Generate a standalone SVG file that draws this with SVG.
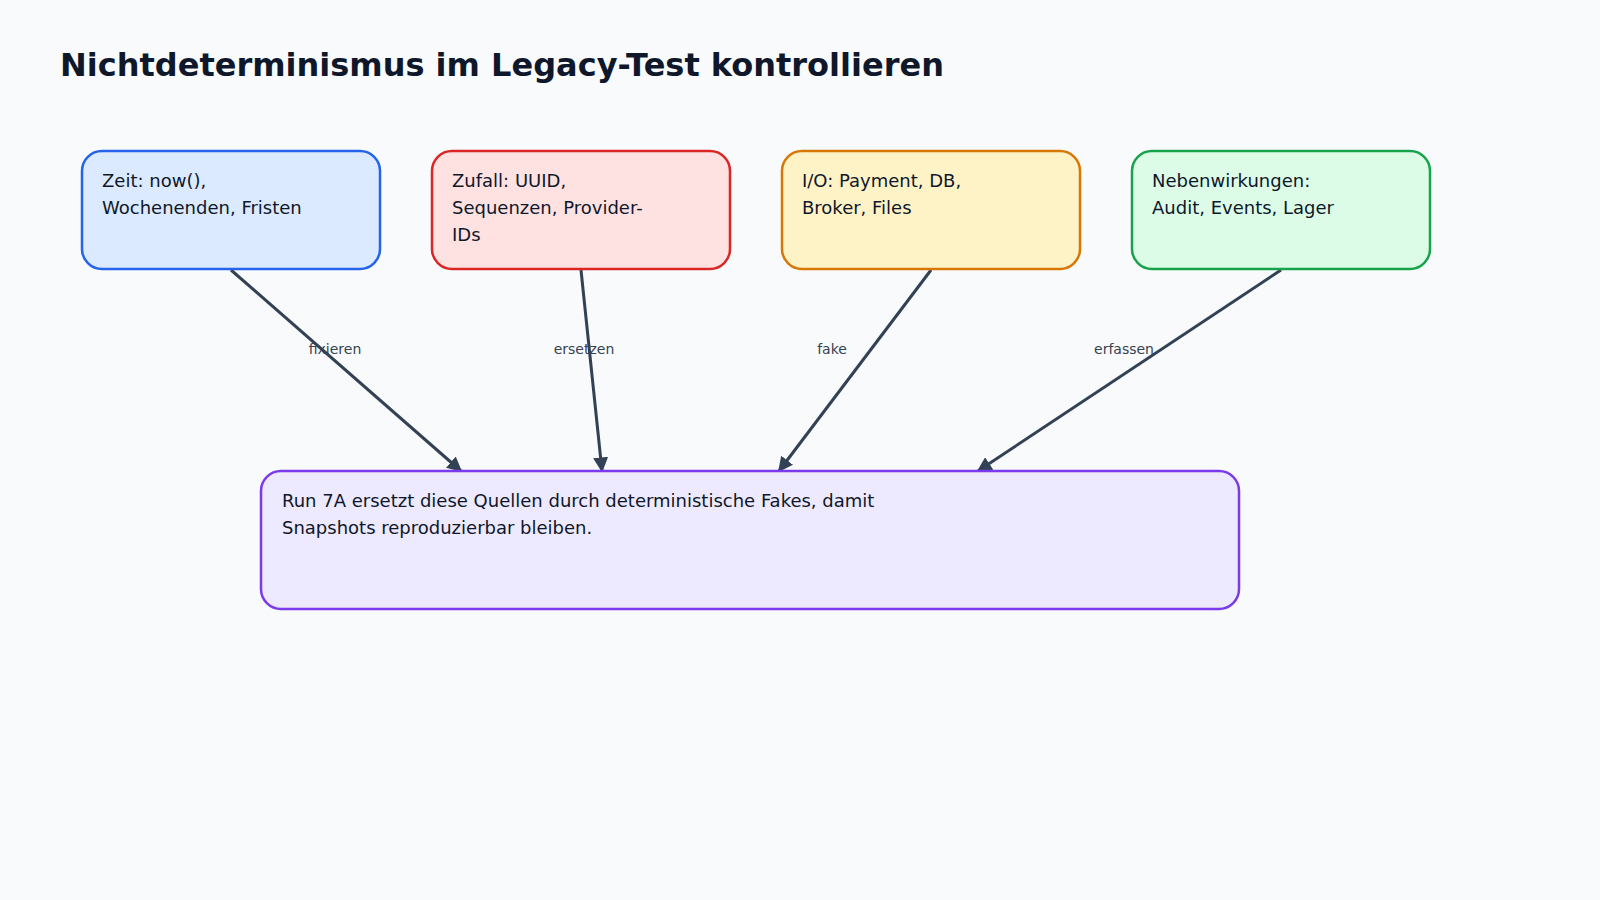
<svg xmlns="http://www.w3.org/2000/svg" width="1600" height="900" viewBox="0 0 1600 900">
<style>
text{font-family:"DejaVu Sans","Noto Sans",sans-serif;fill:#0f172a}
.t{font-size:18px}
.title{font-size:32px;font-weight:bold}
.lbl{font-size:14px;fill:#374151;text-anchor:middle}
.e{stroke:#334155;stroke-width:3;fill:none;marker-end:url(#ah)}
</style>
<defs>
<marker id="ah" viewBox="0 0 10 10" refX="9" refY="5" markerWidth="5" markerHeight="5" orient="auto" markerUnits="strokeWidth">
<path d="M0,0L10,5L0,10z" fill="#334155"/>
</marker>
</defs>
<rect width="1600" height="900" fill="#f8fafc"/>
<text class="title" x="60" y="76">Nichtdeterminismus im Legacy-Test kontrollieren</text>
<g id="edges">
<line class="e" x1="231" y1="270" x2="461" y2="471"/>
<line class="e" x1="581" y1="270" x2="602" y2="471"/>
<line class="e" x1="931" y1="270" x2="779" y2="471"/>
<line class="e" x1="1281" y1="270" x2="978" y2="471"/>
<text class="lbl" x="335" y="354">fixieren</text>
<text class="lbl" x="584" y="354">ersetzen</text>
<text class="lbl" x="832" y="354">fake</text>
<text class="lbl" x="1124" y="354">erfassen</text>
</g>
<g id="zeit">
<rect x="82" y="151" width="298" height="118" rx="20" fill="#dbeafe" stroke="#2563eb" stroke-width="2.5"/>
<text class="t" x="102" y="187">Zeit: now(),</text>
<text class="t" x="102" y="214">Wochenenden, Fristen</text>
</g>
<g id="zufall">
<rect x="432" y="151" width="298" height="118" rx="20" fill="#fee2e2" stroke="#dc2626" stroke-width="2.5"/>
<text class="t" x="452" y="187">Zufall: UUID,</text>
<text class="t" x="452" y="214">Sequenzen, Provider-</text>
<text class="t" x="452" y="241">IDs</text>
</g>
<g id="io">
<rect x="782" y="151" width="298" height="118" rx="20" fill="#fef3c7" stroke="#d97706" stroke-width="2.5"/>
<text class="t" x="802" y="187">I/O: Payment, DB,</text>
<text class="t" x="802" y="214">Broker, Files</text>
</g>
<g id="neben">
<rect x="1132" y="151" width="298" height="118" rx="20" fill="#dcfce7" stroke="#16a34a" stroke-width="2.5"/>
<text class="t" x="1152" y="187">Nebenwirkungen:</text>
<text class="t" x="1152" y="214">Audit, Events, Lager</text>
</g>
<g id="run">
<rect x="261" y="471" width="978" height="138" rx="20" fill="#ede9fe" stroke="#7c3aed" stroke-width="2.5"/>
<text class="t" x="282" y="507">Run 7A ersetzt diese Quellen durch deterministische Fakes, damit</text>
<text class="t" x="282" y="534">Snapshots reproduzierbar bleiben.</text>
</g>
</svg>
